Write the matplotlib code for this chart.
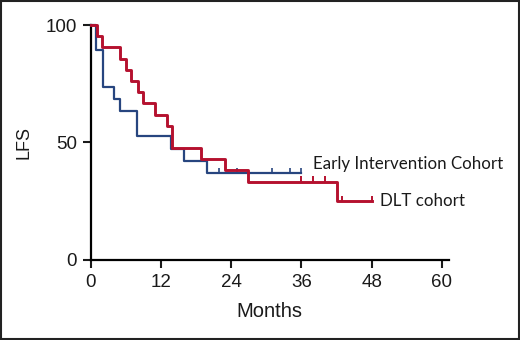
import matplotlib
matplotlib.use("Agg")
import matplotlib.pyplot as plt
from matplotlib.patches import Rectangle

# Kaplan-Meier steps (months, LFS %)
early_t = [0, 0.9, 2.1, 4.0, 5.0, 7.9, 13.8, 15.9, 19.9, 36.0]
early_s = [100, 89.5, 73.7, 68.4, 63.2, 52.6, 47.4, 42.1, 36.8, 36.8]
early_cens = [22, 25, 31, 34, 36]

dlt_t = [0, 1.0, 1.9, 5.0, 6.0, 6.9, 8.0, 9.0, 11.0, 13.0, 13.9, 18.9, 23.0, 26.9, 42.1, 48.0]
dlt_s = [100, 95.2, 90.5, 85.7, 81.0, 76.2, 71.4, 66.7, 61.9, 57.1, 47.6, 42.9, 38.1, 33.3, 25.0, 25.0]
dlt_cens = [36, 38, 40, 43, 48]

blue = "#27457f"
red = "#b5112f"
txt = "#1a1a1a"

plt.rcParams['font.family'] = ['Lato', 'DejaVu Sans']
plain = ['Liberation Sans', 'DejaVu Sans']

fig = plt.figure(figsize=(5.2, 3.4), dpi=100)
ax = fig.add_axes([0.1744, 0.236, 0.689, 0.690])

ax.step(early_t, early_s, where="post", color=blue, lw=1.6, clip_on=False, zorder=3)
ax.step(dlt_t, dlt_s, where="post", color=red, lw=2.1, clip_on=False, zorder=4)


def surv_at(ts, ss, x):
    v = ss[0]
    for t, s in zip(ts, ss):
        if t <= x:
            v = s
    return v


ax.vlines(early_cens, [surv_at(early_t, early_s, c) for c in early_cens],
          [surv_at(early_t, early_s, c) + 2.2 for c in early_cens], color=blue, lw=1.2, zorder=3)
ax.vlines(dlt_cens, [surv_at(dlt_t, dlt_s, c) for c in dlt_cens],
          [surv_at(dlt_t, dlt_s, c) + 2.2 for c in dlt_cens], color=red, lw=1.4, zorder=4)

ax.text(37.9, 40.8, "Early Intervention Cohort", fontsize=12.2, va="center", ha="left", color=txt)
ax.text(49.4, 25.0, "DLT cohort", fontsize=12.2, va="center", ha="left", color=txt)

ax.set_xlim(0, 61.2)
ax.set_ylim(0, 100)
ax.set_xticks([0, 12, 24, 36, 48, 60])
ax.set_yticks([0, 50, 100])
for s in ["top", "right"]:
    ax.spines[s].set_visible(False)
for s in ["left", "bottom"]:
    ax.spines[s].set_linewidth(1.6)
    ax.spines[s].set_color("black")
ax.tick_params(direction="out", length=6, width=1.5, labelsize=13.5, colors=txt, pad=4)
for lab in ax.get_xticklabels() + ax.get_yticklabels():
    lab.set_family(plain)
ax.set_xlabel("Months", fontsize=14.5, color=txt, labelpad=8, family=plain)
ax.set_ylabel("LFS", fontsize=13, color=txt, labelpad=9, family=plain)

fig.patches.append(Rectangle((0.002, 0.003), 0.996, 0.994, transform=fig.transFigure,
                             fill=False, edgecolor="#222222", lw=1.5))

fig.savefig("out.png", dpi=100)
